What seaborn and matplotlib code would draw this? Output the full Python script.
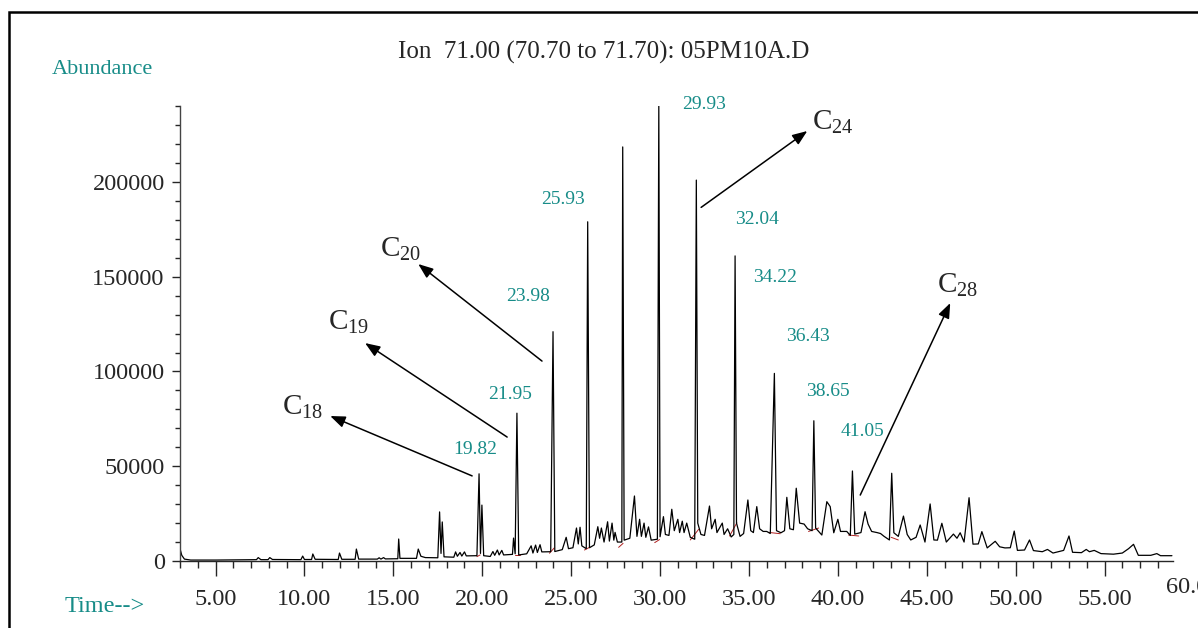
import matplotlib
matplotlib.use("Agg")
import matplotlib.pyplot as plt
import seaborn as sns
import pandas as pd
from matplotlib.patches import Rectangle
from matplotlib.ticker import MultipleLocator, FormatStrFormatter

sns.set_style("ticks")
plt.rcParams['font.family'] = ['Liberation Serif', 'DejaVu Serif']
plt.rcParams['mathtext.default'] = 'regular'

TEAL = "#178c88"

# chromatogram trace (time in min, abundance)
time_min = [3.0, 3.1, 3.25, 3.6, 5.0, 6.5, 7.3, 7.4, 7.55, 7.95, 8.05, 8.2, 9.8, 9.9, 10.0,
            10.4, 10.47, 10.6, 11.9, 11.97, 12.1, 12.85, 12.92, 13.05, 14.1, 14.2, 14.3,
            14.45, 14.55, 15.25, 15.3, 15.37, 16.3, 16.4, 16.55, 16.8, 17.5, 17.6, 17.68,
            17.75, 17.85, 18.4, 18.5, 18.6, 18.75, 18.85, 19.0, 19.1, 19.7, 19.82, 19.9,
            19.98, 20.08, 20.45, 20.6, 20.7, 20.85, 20.95, 21.1, 21.2, 21.7, 21.76, 21.85,
            21.95, 22.05, 22.5, 22.75, 22.85, 23.0, 23.1, 23.25, 23.35, 23.85, 23.98, 24.08,
            24.5, 24.72, 24.85, 25.1, 25.3, 25.4, 25.5, 25.6, 25.85, 25.93, 26.03, 26.3,
            26.5, 26.6, 26.7, 26.85, 27.05, 27.15, 27.3, 27.4, 27.47, 27.6, 27.85, 27.9,
            27.98, 28.3, 28.56, 28.7, 28.85, 28.95, 29.1, 29.2, 29.35, 29.5, 29.85, 29.93,
            30.0, 30.19, 30.3, 30.5, 30.66, 30.8, 31.0, 31.1, 31.25, 31.35, 31.5, 31.7,
            31.95, 32.04, 32.12, 32.3, 32.5, 32.78, 32.9, 33.1, 33.2, 33.5, 33.6, 33.8,
            34.0, 34.15, 34.22, 34.3, 34.5, 34.7, 34.94, 35.1, 35.25, 35.44, 35.6, 35.8,
            36.0, 36.2, 36.43, 36.55, 36.8, 37.0, 37.13, 37.3, 37.5, 37.66, 37.85, 38.1,
            38.3, 38.55, 38.65, 38.75, 39.1, 39.38, 39.57, 39.77, 40.0, 40.15, 40.5, 40.7,
            40.82, 40.95, 41.3, 41.53, 41.7, 41.9, 42.2, 42.4, 42.6, 42.9, 43.03, 43.15,
            43.4, 43.69, 43.9, 44.1, 44.4, 44.63, 44.9, 45.19, 45.4, 45.6, 45.85, 46.1,
            46.5, 46.7, 46.88, 47.1, 47.38, 47.6, 47.9, 48.1, 48.4, 48.85, 49.1, 49.4,
            49.7, 49.92, 50.1, 50.5, 50.78, 51.0, 51.5, 51.79, 52.1, 52.7, 53.0, 53.2,
            53.7, 53.97, 54.15, 54.42, 54.8, 55.5, 56.0, 56.35, 56.63, 56.9, 57.6, 57.94,
            58.15, 58.79]
abundance = [6500, 3000, 1000, 500, 500, 600, 700, 1800, 700, 700, 1800, 800, 700, 2600, 800,
             800, 3700, 900, 800, 4200, 900, 900, 6300, 1000, 1000, 1700, 1000,
             1800, 1100, 1200, 11600, 1400, 1400, 6300, 2500, 1800, 1700, 25900, 4000,
             20600, 2200, 2000, 4800, 2500, 4500, 2600, 4800, 2700, 2800, 46000, 4000,
             29500, 2800, 2400, 5000, 3000, 5800, 3200, 5600, 3200, 3500, 12100, 3800,
             78000, 3200, 3800, 8000, 4200, 8400, 4500, 8600, 4800, 4900, 121000, 5000,
             6000, 12500, 6500, 7000, 17400, 9000, 17800, 8000, 6500, 179000, 7000, 8500,
             18100, 12000, 17400, 10000, 20700, 10500, 20000, 11000, 15100, 10000, 10000, 218500,
             11000, 12000, 34300, 13000, 22000, 13000, 20000, 12500, 18000, 11000, 11500, 240500,
             12800, 23400, 14000, 13500, 27300, 16000, 22000, 15000, 21000, 15000, 20000, 12500,
             11500, 201000, 20000, 14000, 13500, 29000, 17000, 22000, 15000, 20000, 14000, 17000,
             12700, 14000, 161000, 20000, 13000, 14500, 32200, 16000, 15000, 28700, 17000, 15600,
             15600, 14500, 99000, 16000, 14900, 16000, 33600, 17000, 16500, 38400, 20000, 19500,
             17000, 16000, 74000, 17400, 13700, 31300, 28700, 14900, 22000, 15600, 15600, 13500,
             47500, 14200, 15000, 26000, 19500, 15600, 15000, 14500, 13000, 11100, 46300, 14900,
             13000, 23700, 14000, 11100, 12500, 19000, 10000, 30100, 11100, 11000, 19900, 10000,
             14200, 12000, 14900, 10000, 33400, 8900, 9000, 15500, 6900, 10400, 7500, 6900,
             7000, 15800, 5600, 5800, 11100, 5500, 4900, 6100, 4200, 5600, 13200, 4600,
             4400, 6100, 4900, 5600, 3900, 3600, 4200, 6500, 8800, 3000, 3000, 3900,
             2800, 2800]

# integration baselines (red) under the labelled peaks
base_t0 = [19.70, 21.85, 23.78, 25.75, 27.67, 29.70, 31.70, 33.91, 36.10, 38.35, 40.60, 43.00]
base_a0 = [2300, 3200, 4100, 5800, 7200, 9700, 11100, 13200, 15100, 15600, 13700, 12500]
base_t1 = [19.88, 22.14, 24.05, 26.03, 27.92, 29.97, 32.17, 34.32, 36.76, 38.92, 41.17, 43.40]
base_a1 = [3200, 3200, 6900, 7200, 9300, 11300, 16700, 20200, 14400, 17400, 13200, 11100]

# retention time labels
rt_labels = ["19.82", "21.95", "23.98", "25.93", "29.93", "32.04", "34.22", "36.43", "38.65", "41.05"]
rt_label_x = [19.60, 21.57, 22.58, 24.55, 32.48, 35.46, 36.47, 38.33, 39.45, 41.37]
rt_label_y = [58600, 88100, 139800, 190500, 241100, 180000, 149400, 118700, 89200, 68500]

# n-alkane annotations
alk_names = ["C$_{18}$", "C$_{19}$", "C$_{20}$", "C$_{24}$", "C$_{28}$"]
alk_text_x = [8.76, 11.33, 14.26, 38.56, 45.59]
alk_text_y = [77000, 121900, 160400, 227400, 141400]
alk_tail_x = [19.43, 21.40, 23.36, 32.31, 41.26]
alk_tail_y = [44900, 65400, 105500, 186600, 34800]
alk_tip_x = [11.45, 13.41, 16.40, 38.28, 46.32]
alk_tip_y = [76500, 115000, 156700, 226900, 136100]

df = pd.DataFrame({"time": time_min, "abundance": abundance})

fig = plt.figure(figsize=(11.98, 6.28), dpi=100)
ax = fig.add_axes([180/1198, 67/628, (1173-180)/1198, 455/628])

for i in range(len(base_t0)):
    ax.plot([base_t0[i], base_t1[i]], [base_a0[i], base_a1[i]], color="#b02020", lw=0.7,
            zorder=1)
sns.lineplot(data=df, x="time", y="abundance", sort=False, estimator=None,
             color="black", lw=0.9, ax=ax, zorder=2)

ax.set_xlim(3.0, 58.85)
ax.set_ylim(0, 240100)
ax.set_xlabel("")
ax.set_ylabel("")

ax.xaxis.set_major_locator(MultipleLocator(5))
ax.xaxis.set_minor_locator(MultipleLocator(1))
ax.xaxis.set_major_formatter(FormatStrFormatter("%.2f"))
ax.yaxis.set_major_locator(MultipleLocator(50000))
ax.yaxis.set_minor_locator(MultipleLocator(10000))
ax.yaxis.set_major_formatter(FormatStrFormatter("%d"))

ax.tick_params(axis="x", which="major", length=11, width=1, pad=9, labelsize=17.5)
ax.tick_params(axis="x", which="minor", length=5, width=1)
ax.tick_params(axis="y", which="major", length=6, width=1, pad=5, labelsize=17.5)
ax.tick_params(axis="y", which="minor", length=3.5, width=1)

sns.despine(ax=ax, top=True, right=True)
ax.spines["left"].set_color("#444444")
ax.spines["left"].set_linewidth(1)
ax.spines["bottom"].set_linewidth(1)

# last tick label sits beyond the drawn axis (cut by the edge, as in the source)
ax.text(60, -0.058, "60.00", transform=ax.get_xaxis_transform(), ha="center", va="center",
        fontsize=17.5)

for lab, x, y in zip(rt_labels, rt_label_x, rt_label_y):
    ax.text(x, y, lab, color=TEAL, fontsize=14, ha="center", va="center")

for i in range(len(alk_names)):
    ax.annotate("", xy=(alk_tip_x[i], alk_tip_y[i]), xytext=(alk_tail_x[i], alk_tail_y[i]),
                arrowprops=dict(arrowstyle="-|>,head_length=0.9,head_width=0.35",
                                color="black", lw=1.1, shrinkA=0, shrinkB=0))
    ax.text(alk_text_x[i], alk_text_y[i], alk_names[i], fontsize=21, ha="left", va="baseline")

fig.text(604/1198, 1 - 52/628, "Ion  71.00 (70.70 to 71.70): 05PM10A.D",
         ha="center", va="center", fontsize=18)
fig.text(52/1198, 1 - 70/628, "Abundance", color=TEAL, ha="left", va="center", fontsize=16)
fig.text(65/1198, 1 - 607/628, "Time-->", color=TEAL, ha="left", va="center", fontsize=17.5)

fig.patches.append(Rectangle((8.7/1198, -0.2), 1.5, 1 - 11.7/628 + 0.2,
                             transform=fig.transFigure, fill=False, lw=1.8,
                             edgecolor="black"))

fig.savefig("out.png", dpi=100)
